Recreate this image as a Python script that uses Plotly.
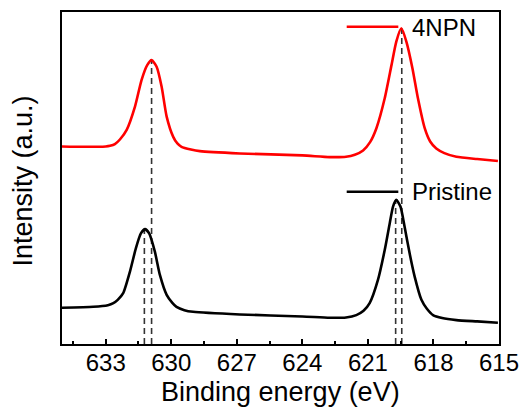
import plotly.graph_objects as go

# ---- data (binding energy in eV, intensity in a.u.) ----
energy_4npn = [635.0, 634.0, 633.0, 632.8, 632.58, 632.35, 632.04, 631.66, 631.36, 631.10,
               630.90, 630.67, 630.44, 630.21, 629.91, 629.72, 629.53, 629.1, 628.69,
               626.86, 624.0, 622.75, 622.0, 621.6, 621.22, 620.9, 620.61, 620.23, 619.92,
               619.70, 619.47, 619.24, 618.96, 618.71, 618.40, 618.15, 617.87, 617.5,
               616.95, 616.0, 615.05]
intensity_4npn = [59.5, 59.4, 59.5, 59.7, 60.2, 61.6, 64.5, 71.5, 79.5, 84.0,
                  85.5, 83.5, 77.5, 68.5, 62.4, 60.4, 59.4, 58.6, 58.1,
                  57.4, 56.8, 56.3, 56.4, 57.0, 58.3, 60.8, 65.0, 74.0, 84.0,
                  91.1, 95.1, 91.1, 83.0, 74.0, 65.0, 61.0, 58.9, 57.5,
                  56.4, 55.7, 55.1]

energy_pristine = [635.0, 633.57, 632.9, 632.65, 632.45, 632.20, 631.89, 631.62, 631.39,
                   631.20, 631.01, 630.75, 630.52, 630.21, 629.95, 629.76, 629.4, 629.00,
                   626.86, 624.0, 622.75, 622.0, 621.53, 621.2, 620.92, 620.54, 620.23,
                   620.00, 619.85, 619.70, 619.51, 619.32, 619.09, 618.86, 618.55, 618.3,
                   618.02, 617.6, 616.95, 616.0, 615.05]
intensity_pristine = [10.9, 11.2, 11.7, 12.3, 13.3, 15.3, 21.8, 28.8, 33.3,
                      34.6, 33.3, 27.8, 20.8, 14.8, 12.4, 11.2, 10.2, 9.7,
                      8.9, 8.3, 7.9, 8.0, 8.7, 10.0, 12.3, 19.3, 28.3,
                      36.4, 41.4, 43.4, 41.4, 35.3, 27.3, 20.3, 13.3, 10.6,
                      8.7, 7.8, 7.2, 6.8, 6.4]

peak_energy_4npn = [630.90, 619.45]
peak_int_4npn = [85.5, 95.1]
peak_energy_pristine = [631.23, 619.73]
peak_int_pristine = [34.6, 43.4]

series_names = ["4NPN", "Pristine"]
x_ticks = [633, 630, 627, 624, 621, 618, 615]
x_minor_ticks = [634.5, 631.5, 628.5, 625.5, 622.5, 619.5, 616.5]
x_range = [635, 615]
y_range = [0, 100]

FONT = "Arial, 'Liberation Sans', sans-serif"

fig = go.Figure()

# dashed guide lines from each peak down to the axis
for energies, ints in ((peak_energy_pristine, peak_int_pristine),
                       (peak_energy_4npn, peak_int_4npn)):
    for e, i in zip(energies, ints):
        fig.add_trace(go.Scatter(
            x=[e, e], y=[y_range[0], i], mode="lines",
            line=dict(color="#333333", width=1.6, dash="6px,4px"),
            showlegend=False, hoverinfo="skip"))

fig.add_trace(go.Scatter(
    x=energy_pristine, y=intensity_pristine, mode="lines", name=series_names[1],
    line=dict(color="black", width=2.6, shape="spline", smoothing=0.6),
    showlegend=False))
fig.add_trace(go.Scatter(
    x=energy_4npn, y=intensity_4npn, mode="lines", name=series_names[0],
    line=dict(color="#ff0000", width=2.6, shape="spline", smoothing=0.6),
    showlegend=False))

# in-plot legend (line sample + label)
legend_items = [
    (series_names[0], "#ff0000", 0.9557, 0.9548),
    (series_names[1], "black", 0.4587, 0.4593),
]
for name, col, yl, yt in legend_items:
    fig.add_shape(type="line", xref="paper", yref="paper",
                  x0=0.6515, x1=0.7696, y0=yl, y1=yl,
                  line=dict(color=col, width=2.4))
    fig.add_annotation(text=name, xref="paper", yref="paper", x=0.797, y=yt,
                       xanchor="left", yanchor="middle", showarrow=False,
                       font=dict(family=FONT, size=24, color="black"))

# axis titles
fig.add_annotation(text="Binding energy (eV)", xref="paper", yref="paper",
                   x=0.5, y=-0.1437, xanchor="center", yanchor="middle",
                   showarrow=False, font=dict(family=FONT, size=27, color="black"))
fig.add_annotation(text="Intensity (a.u.)", xref="paper", yref="paper",
                   x=-0.087, y=0.4925, xanchor="center", yanchor="middle",
                   textangle=-90, showarrow=False,
                   font=dict(family=FONT, size=27, color="black"))

fig.update_xaxes(
    range=x_range, tickmode="array", tickvals=x_ticks,
    ticktext=[str(t) for t in x_ticks],
    ticks="inside", ticklen=5, tickwidth=1.5, tickcolor="black",
    ticklabelstandoff=-4,
    minor=dict(tickmode="array", tickvals=x_minor_ticks,
               ticks="inside", ticklen=3, tickwidth=1.5, tickcolor="black"),
    showline=True, linecolor="black", linewidth=2, mirror=True,
    showgrid=False, zeroline=False,
    tickfont=dict(family=FONT, size=24, color="black"))
fig.update_yaxes(
    range=y_range, showticklabels=False, ticks="",
    showline=True, linecolor="black", linewidth=2, mirror=True,
    showgrid=False, zeroline=False)

fig.update_layout(
    width=523, height=419,
    margin=dict(l=62, r=24, t=12, b=75, autoexpand=False),
    plot_bgcolor="white", paper_bgcolor="white",
    showlegend=False)

# remove the default page margin / scrollbars so the figure fills the window
fig.write_html(
    "out.html",
    config={"displayModeBar": False},
    post_script="document.body.style.margin='0';document.body.style.overflow='hidden';")
